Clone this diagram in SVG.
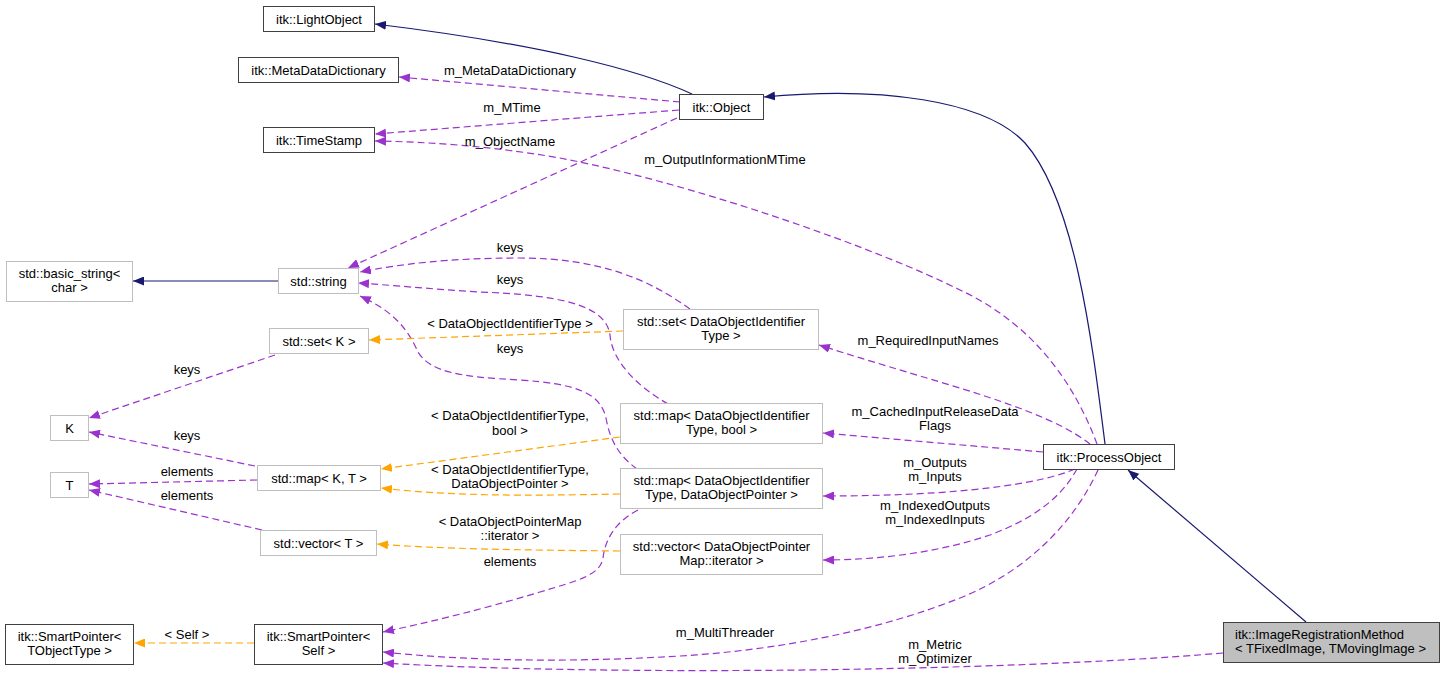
<svg xmlns="http://www.w3.org/2000/svg" width="1445" height="679" viewBox="0 0 1445 679">
<style>
text{font-family:"Liberation Sans",Arial,sans-serif;font-size:13px;fill:#000}
.c{text-anchor:middle}
.nb{fill:#fff;stroke:#404040;stroke-width:1}
.ng{fill:#fff;stroke:#bfbfbf;stroke-width:1}
.nh{fill:#bfbfbf;stroke:#404040;stroke-width:1}
.inh{fill:none;stroke:#191970;stroke-width:1.2;marker-end:url(#aN)}
.use{fill:none;stroke:#9a32cd;stroke-width:1.2;stroke-dasharray:7,4;marker-end:url(#aP)}
.tpl{fill:none;stroke:#ffa500;stroke-width:1.2;stroke-dasharray:7,4;marker-end:url(#aO)}
</style>
<defs>
<marker id="aN" markerUnits="userSpaceOnUse" markerWidth="12" markerHeight="9" refX="11" refY="4.5" orient="auto"><path d="M0,0 L11,4.5 L0,9 z" fill="#191970"/></marker>
<marker id="aP" markerUnits="userSpaceOnUse" markerWidth="12" markerHeight="9" refX="11" refY="4.5" orient="auto"><path d="M0,0 L11,4.5 L0,9 z" fill="#9a32cd"/></marker>
<marker id="aO" markerUnits="userSpaceOnUse" markerWidth="12" markerHeight="9" refX="11" refY="4.5" orient="auto"><path d="M0,0 L11,4.5 L0,9 z" fill="#ffa500"/></marker>
</defs>
<rect width="1445" height="679" fill="#fff"/>
<g id="connectors">
<path class="inh" d="M692,94 C640,70 540,44 375,24"/>
<path class="inh" d="M1105,444 C1092,340 1075,200 1025,143 C985,100 880,86 764,97"/>
<path class="inh" d="M1306,622 L1128,470"/>
<path class="inh" d="M278,281 L133,281"/>
<path class="use" d="M680,102 L399,77"/>
<path class="use" d="M679,110 L375,134"/>
<path class="use" d="M1097,444 C1075,385 1035,325 960,290 C880,250 700,185 560,158 C490,146 430,142 375,141"/>
<path class="use" d="M677,118 L348,268"/>
<path class="use" d="M690,309 C650,280 600,258 520,258 C450,258 400,264 360,272"/>
<path class="use" d="M668,404 C635,385 612,360 610,335 C606,305 560,295 480,292 C430,289 390,285 358,283"/>
<path class="use" d="M637,469 C618,455 610,440 606,418 C600,392 575,384 520,380 C460,377 430,372 418,352 C408,330 395,312 360,296"/>
<path class="use" d="M275,355 L89,418"/>
<path class="use" d="M255,466 L89,432"/>
<path class="use" d="M257,480 L89,484"/>
<path class="use" d="M262,530 L89,490"/>
<path class="use" d="M638,510 C615,522 605,540 603,558 C600,575 580,580 540,592 C480,610 430,622 383,632"/>
<path class="use" d="M1090,444 C1060,420 1000,400 940,382 C890,367 850,355 819,345"/>
<path class="use" d="M1043,452 L823,433"/>
<path class="use" d="M1075,469 C1040,484 960,496 823,496"/>
<path class="use" d="M1077,469 C1060,500 1030,520 990,535 C940,552 880,560 823,560"/>
<path class="use" d="M1098,470 C1075,520 1030,570 960,598 C880,630 780,650 680,656 C580,662 480,662 383,652"/>
<path class="use" d="M1223,653 C1000,672 600,676 383,663"/>
<path class="tpl" d="M623,331 L369,340"/>
<path class="tpl" d="M620,437 L381,469"/>
<path class="tpl" d="M620,494 C520,496 450,496 381,488"/>
<path class="tpl" d="M620,551 C520,550 440,549 377,544"/>
<path class="tpl" d="M254,643 L134,643"/>
<text class="c" x="510" y="75">m_MetaDataDictionary</text>
<text class="c" x="512" y="112">m_MTime</text>
<text class="c" x="510" y="146">m_ObjectName</text>
<text class="c" x="725" y="164">m_OutputInformationMTime</text>
<text class="c" x="510" y="252">keys</text>
<text class="c" x="510" y="284">keys</text>
<text class="c" x="510" y="328">&lt; DataObjectIdentifierType &gt;</text>
<text class="c" x="510" y="353">keys</text>
<text class="c" x="187" y="374">keys</text>
<text class="c" x="187" y="440">keys</text>
<text class="c" x="187" y="476">elements</text>
<text class="c" x="187" y="500">elements</text>
<text class="c" x="510" y="420">&lt; DataObjectIdentifierType,</text>
<text class="c" x="510" y="435">bool &gt;</text>
<text class="c" x="510" y="474">&lt; DataObjectIdentifierType,</text>
<text class="c" x="510" y="488">DataObjectPointer &gt;</text>
<text class="c" x="510" y="526">&lt; DataObjectPointerMap</text>
<text class="c" x="510" y="540">::iterator &gt;</text>
<text class="c" x="510" y="566">elements</text>
<text class="c" x="187" y="639">&lt; Self &gt;</text>
<text class="c" x="725" y="637">m_MultiThreader</text>
<text class="c" x="935" y="649">m_Metric</text>
<text class="c" x="935" y="663">m_Optimizer</text>
<text class="c" x="928" y="345">m_RequiredInputNames</text>
<text class="c" x="935" y="416">m_CachedInputReleaseData</text>
<text class="c" x="935" y="430">Flags</text>
<text class="c" x="935" y="467">m_Outputs</text>
<text class="c" x="935" y="481">m_Inputs</text>
<text class="c" x="935" y="510">m_IndexedOutputs</text>
<text class="c" x="935" y="524">m_IndexedInputs</text>
</g>
<g id="n_LightObject"><rect class="nb" x="263.5" y="6.5" width="111" height="25"/><text class="c" x="319" y="23.5">itk::LightObject</text></g>
<g id="n_MetaDataDictionary"><rect class="nb" x="238.5" y="57.5" width="160" height="25"/><text class="c" x="318.5" y="74.5">itk::MetaDataDictionary</text></g>
<g id="n_TimeStamp"><rect class="nb" x="263.5" y="127.5" width="111" height="25"/><text class="c" x="319" y="144.5">itk::TimeStamp</text></g>
<g id="n_Object"><rect class="nb" x="679.5" y="94.5" width="84" height="25"/><text class="c" x="721.5" y="111.5">itk::Object</text></g>
<g id="n_basic_string"><rect class="ng" x="6.5" y="261.5" width="126" height="40"/><text class="c" x="69.5" y="277.5">std::basic_string&lt;</text><text class="c" x="69.5" y="291.5">char &gt;</text></g>
<g id="n_string"><rect class="ng" x="278.5" y="268.5" width="80" height="25"/><text class="c" x="318.5" y="285.5">std::string</text></g>
<g id="n_setK"><rect class="ng" x="269.5" y="328.5" width="99" height="25"/><text class="c" x="319" y="345.5">std::set&lt; K &gt;</text></g>
<g id="n_K"><rect class="ng" x="50.5" y="415.5" width="38" height="25"/><text class="c" x="69.5" y="432.5">K</text></g>
<g id="n_T"><rect class="ng" x="50.5" y="472.5" width="38" height="25"/><text class="c" x="69.5" y="489.5">T</text></g>
<g id="n_mapKT"><rect class="ng" x="257.5" y="465.5" width="123" height="25"/><text class="c" x="319" y="482.5">std::map&lt; K, T &gt;</text></g>
<g id="n_vectorT"><rect class="ng" x="260.5" y="530.5" width="116" height="25"/><text class="c" x="318.5" y="547.5">std::vector&lt; T &gt;</text></g>
<g id="n_SP_TObjectType"><rect class="nb" x="5.5" y="624.5" width="128" height="40"/><text class="c" x="69.5" y="641">itk::SmartPointer&lt;</text><text class="c" x="69.5" y="655">TObjectType &gt;</text></g>
<g id="n_SP_Self"><rect class="nb" x="254.5" y="624.5" width="128" height="40"/><text class="c" x="318.5" y="641">itk::SmartPointer&lt;</text><text class="c" x="318.5" y="655">Self &gt;</text></g>
<g id="n_setDOI"><rect class="ng" x="623.5" y="309.5" width="195" height="40"/><text class="c" x="721" y="326">std::set&lt; DataObjectIdentifier</text><text class="c" x="721" y="340">Type &gt;</text></g>
<g id="n_mapBool"><rect class="ng" x="620.5" y="403.5" width="202" height="40"/><text class="c" x="721.5" y="420">std::map&lt; DataObjectIdentifier</text><text class="c" x="721.5" y="434">Type, bool &gt;</text></g>
<g id="n_mapDOP"><rect class="ng" x="620.5" y="468.5" width="202" height="40"/><text class="c" x="721.5" y="485">std::map&lt; DataObjectIdentifier</text><text class="c" x="721.5" y="499">Type, DataObjectPointer &gt;</text></g>
<g id="n_vectorIter"><rect class="ng" x="620.5" y="534.5" width="202" height="40"/><text class="c" x="721.5" y="551">std::vector&lt; DataObjectPointer</text><text class="c" x="721.5" y="565">Map::iterator &gt;</text></g>
<g id="n_ProcessObject"><rect class="nb" x="1043.5" y="444.5" width="131" height="25"/><text class="c" x="1109" y="461.5">itk::ProcessObject</text></g>
<g id="n_ImageRegistrationMethod"><rect class="nh" x="1223.5" y="622.5" width="216" height="40"/><text x="1235" y="639">itk::ImageRegistrationMethod</text><text x="1235" y="653">&lt; TFixedImage, TMovingImage &gt;</text></g>
</svg>
